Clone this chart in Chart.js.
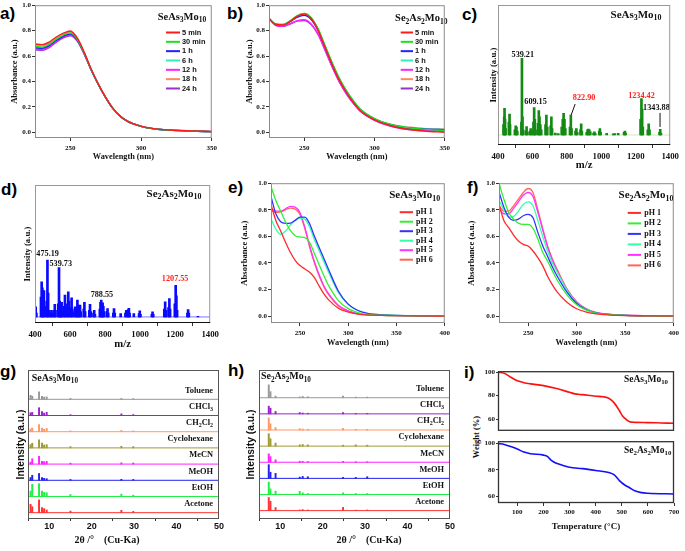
<!DOCTYPE html>
<html>
<head>
<meta charset="utf-8">
<script src="https://cdn.jsdelivr.net/npm/chart.js@4.4.1/dist/chart.umd.min.js"></script>
<style>
  body { margin: 0; background: #fff; width: 685px; height: 551px; position: relative; overflow: hidden; }
  canvas { position: absolute; }
  .lbl { position: absolute; font: bold 17px "Liberation Sans", Arial, sans-serif; line-height: 17px; color: #000; }
  #wt { position: absolute; left: 476px; top: 437px; font: bold 8.5px "Liberation Serif", serif; white-space: nowrap;
        transform: translate(-50%, -50%) rotate(-90deg); color: #111; }
</style>
</head>
<body>
<div class="lbl" style="left:0px;top:5px">a)</div>
<div class="lbl" style="left:227px;top:5px">b)</div>
<div class="lbl" style="left:462px;top:6px">c)</div>
<div class="lbl" style="left:1px;top:181px">d)</div>
<div class="lbl" style="left:228px;top:179px">e)</div>
<div class="lbl" style="left:467px;top:179px">f)</div>
<div class="lbl" style="left:0px;top:363px">g)</div>
<div class="lbl" style="left:228px;top:362px">h)</div>
<div class="lbl" style="left:464px;top:364px">i)</div>
<div id="wt">Weight (%)</div>
<script>
'use strict';
const SERIF = '"Liberation Serif", "Times New Roman", serif';
const SANS = '"Liberation Sans", Arial, sans-serif';

// ---------- a) / b) UV-vis vs. time ----------
const timeLabels = ['5 min', '30 min', '1 h', '6 h', '12 h', '18 h', '24 h'];
const timeColors = ['#ff1a1a', '#22dd22', '#2222ff', '#33eebb', '#ff22ff', '#ff8866', '#9933cc'];
const waveAB = [225, 230, 235, 240, 245, 250, 255, 260, 265, 270, 275, 280, 285, 290, 300, 310, 320, 335, 350];

const absA5m  = [0.695, 0.690, 0.710, 0.750, 0.780, 0.797, 0.740, 0.625, 0.490, 0.375, 0.275, 0.190, 0.130, 0.090, 0.048, 0.027, 0.018, 0.011, 0.006];
const absA30m = [0.675, 0.670, 0.692, 0.732, 0.765, 0.782, 0.730, 0.618, 0.487, 0.373, 0.274, 0.189, 0.129, 0.089, 0.047, 0.026, 0.017, 0.010, 0.005];
const absA1h  = [0.665, 0.660, 0.682, 0.722, 0.755, 0.772, 0.724, 0.615, 0.485, 0.372, 0.273, 0.188, 0.129, 0.089, 0.047, 0.026, 0.017, 0.010, 0.005];
const absA6h  = [0.670, 0.665, 0.687, 0.727, 0.760, 0.777, 0.727, 0.616, 0.486, 0.372, 0.273, 0.189, 0.129, 0.089, 0.047, 0.026, 0.017, 0.010, 0.005];
const absA12h = [0.655, 0.650, 0.672, 0.713, 0.748, 0.766, 0.720, 0.613, 0.484, 0.371, 0.272, 0.188, 0.128, 0.088, 0.046, 0.026, 0.017, 0.010, 0.005];
const absA18h = [0.685, 0.680, 0.700, 0.740, 0.772, 0.790, 0.735, 0.620, 0.488, 0.374, 0.274, 0.190, 0.130, 0.090, 0.048, 0.027, 0.018, 0.011, 0.006];
const absA24h = [0.650, 0.645, 0.667, 0.708, 0.743, 0.760, 0.715, 0.610, 0.482, 0.370, 0.272, 0.188, 0.128, 0.088, 0.046, 0.026, 0.017, 0.010, 0.005];

const absB5m  = [0.895, 0.848, 0.845, 0.872, 0.912, 0.930, 0.895, 0.800, 0.665, 0.530, 0.410, 0.315, 0.235, 0.170, 0.098, 0.055, 0.030, 0.010, 0.000];
const absB30m = [0.895, 0.850, 0.848, 0.876, 0.916, 0.935, 0.902, 0.812, 0.678, 0.545, 0.425, 0.328, 0.248, 0.182, 0.108, 0.066, 0.042, 0.025, 0.015];
const absB1h  = [0.895, 0.848, 0.845, 0.870, 0.905, 0.920, 0.888, 0.800, 0.668, 0.535, 0.415, 0.320, 0.240, 0.176, 0.104, 0.063, 0.040, 0.026, 0.020];
const absB6h  = [0.895, 0.850, 0.847, 0.873, 0.910, 0.925, 0.895, 0.810, 0.678, 0.545, 0.425, 0.327, 0.247, 0.181, 0.108, 0.066, 0.043, 0.028, 0.022];
const absB12h = [0.895, 0.842, 0.835, 0.855, 0.878, 0.885, 0.852, 0.770, 0.645, 0.515, 0.398, 0.305, 0.228, 0.165, 0.094, 0.052, 0.028, 0.012, 0.005];
const absB18h = [0.895, 0.850, 0.848, 0.877, 0.917, 0.935, 0.900, 0.808, 0.672, 0.540, 0.420, 0.325, 0.245, 0.180, 0.108, 0.067, 0.045, 0.031, 0.025];
const absB24h = [0.895, 0.840, 0.833, 0.852, 0.875, 0.880, 0.848, 0.768, 0.642, 0.512, 0.396, 0.303, 0.227, 0.165, 0.096, 0.056, 0.034, 0.022, 0.018];

// ---------- e) / f) UV-vis vs. pH ----------
const pHLabels = ['pH 1', 'pH 2', 'pH 3', 'pH 4', 'pH 5', 'pH 6'];
const pHColors = ['#ff2a2a', '#33ee33', '#3333ff', '#33ffaa', '#ff33ff', '#ff6655'];
const waveEF = [220, 225, 230, 235, 240, 245, 250, 255, 260, 265, 270, 275, 280, 290, 300, 310, 320, 335, 350, 375, 400];

const absEpH1 = [0.840, 0.720, 0.640, 0.555, 0.480, 0.420, 0.380, 0.355, 0.330, 0.290, 0.225, 0.165, 0.120, 0.058, 0.030, 0.015, 0.009, 0.005, 0.003, 0.001, 0.000];
const absEpH2 = [0.975, 0.870, 0.790, 0.710, 0.645, 0.605, 0.595, 0.590, 0.555, 0.470, 0.385, 0.300, 0.225, 0.115, 0.056, 0.026, 0.013, 0.006, 0.004, 0.002, 0.000];
const absEpH3 = [0.900, 0.770, 0.710, 0.698, 0.700, 0.720, 0.745, 0.745, 0.695, 0.600, 0.515, 0.430, 0.345, 0.185, 0.090, 0.042, 0.020, 0.009, 0.005, 0.002, 0.000];
const absEpH4 = [0.730, 0.655, 0.615, 0.640, 0.685, 0.720, 0.737, 0.730, 0.670, 0.575, 0.490, 0.405, 0.325, 0.175, 0.088, 0.043, 0.021, 0.010, 0.006, 0.002, 0.000];
const absEpH5 = [0.810, 0.790, 0.790, 0.808, 0.826, 0.820, 0.780, 0.670, 0.530, 0.410, 0.310, 0.225, 0.165, 0.080, 0.040, 0.018, 0.010, 0.005, 0.003, 0.001, 0.000];
const absEpH6 = [0.800, 0.780, 0.785, 0.800, 0.812, 0.805, 0.765, 0.660, 0.520, 0.400, 0.300, 0.218, 0.158, 0.076, 0.037, 0.017, 0.009, 0.005, 0.003, 0.001, 0.000];

const absFpH1 = [0.840, 0.720, 0.665, 0.610, 0.565, 0.540, 0.527, 0.490, 0.440, 0.380, 0.300, 0.235, 0.180, 0.105, 0.055, 0.030, 0.016, 0.008, 0.004, 0.002, 0.000];
const absFpH2 = [1.000, 0.880, 0.780, 0.730, 0.700, 0.690, 0.690, 0.660, 0.580, 0.480, 0.415, 0.340, 0.270, 0.160, 0.085, 0.045, 0.022, 0.010, 0.005, 0.002, 0.000];
const absFpH3 = [0.935, 0.820, 0.745, 0.720, 0.730, 0.755, 0.765, 0.740, 0.630, 0.530, 0.450, 0.370, 0.300, 0.180, 0.095, 0.048, 0.024, 0.011, 0.006, 0.002, 0.000];
const absFpH4 = [0.870, 0.800, 0.745, 0.750, 0.790, 0.840, 0.860, 0.830, 0.720, 0.600, 0.490, 0.400, 0.330, 0.195, 0.100, 0.050, 0.025, 0.012, 0.006, 0.002, 0.000];
const absFpH5 = [0.810, 0.770, 0.770, 0.810, 0.860, 0.910, 0.930, 0.900, 0.780, 0.650, 0.520, 0.420, 0.340, 0.200, 0.105, 0.052, 0.026, 0.012, 0.007, 0.003, 0.000];
const absFpH6 = [0.830, 0.790, 0.790, 0.830, 0.880, 0.930, 0.960, 0.930, 0.800, 0.660, 0.530, 0.430, 0.350, 0.205, 0.108, 0.054, 0.027, 0.013, 0.007, 0.003, 0.000];

// ---------- c) / d) mass spectra ----------
const mzC  = [432, 436, 438, 441, 444, 463, 467, 470, 498, 503, 507, 512, 536, 539, 542, 546, 562, 566, 570, 585, 590, 595,
              606, 610, 614, 618, 632, 637, 641, 646, 651, 676, 681, 686, 706, 710, 714, 733, 750, 770, 776, 781, 786, 791,
              818, 823, 827, 850, 855, 860, 879, 883, 887, 915, 920, 925, 930, 936, 955, 960, 965, 988, 992, 996,
              1031, 1069, 1078, 1098, 1132, 1137, 1141, 1228, 1233, 1237, 1241, 1270, 1275, 1280, 1338, 1342, 1346];
const intC = [8, 14, 20.5, 12, 5, 10, 16, 8, 4, 7, 6, 3, 10, 59, 14, 4, 3, 6.4, 2, 3, 5, 3,
              10, 21, 12, 4, 9, 18.7, 14, 8, 4, 8, 15.4, 6, 7, 14, 5, 1.5, 1, 6, 12, 16.7, 12, 5,
              6, 15.4, 5, 3, 5, 2, 4, 8.5, 3, 2, 4, 4.6, 4, 2.5, 1.5, 2.5, 1, 3, 5, 2,
              1.3, 0.8, 1, 1.3, 2, 3, 1.5, 12, 28, 20, 6, 4, 8.5, 4, 2, 4.4, 1.5];

const mzD  = [404, 408, 434, 438, 442, 446, 451, 455, 467, 471, 475, 479, 490, 494, 498, 508, 513, 517, 533, 537, 541, 545,
              548, 552, 556, 567, 571, 575, 585, 590, 594, 605, 609, 613, 625, 629, 638, 642, 646, 650, 657, 661,
              678, 682, 686, 710, 714, 718, 734, 738, 742, 770, 774, 778, 782, 786, 790, 794, 810, 814, 818,
              847, 851, 855, 889, 916, 921, 928, 932, 936, 940, 964, 994, 998, 1002, 1067, 1071, 1075,
              1138, 1143, 1147, 1162, 1167, 1171, 1198, 1203, 1207, 1211, 1270, 1274, 1278, 1330];
const intD = [7.6, 3, 15, 26.6, 22, 10, 20, 8, 12, 43, 18, 5, 3, 5, 3, 5, 9.6, 5, 10, 37.5, 12, 4,
              6, 11, 4, 8, 16.5, 7, 10, 19, 12, 7, 14.4, 6, 4, 7.6, 6, 12.7, 9, 5, 8.9, 4,
              6, 11, 4, 5, 9.6, 4, 3, 5, 2, 6, 11, 12.7, 9, 10.6, 8, 4, 4, 6.3, 3,
              3, 6.3, 3, 2.5, 3, 5, 4, 5.5, 6.6, 3, 2.5, 2.5, 4.6, 2, 2, 3.8, 2,
              6, 11.4, 5, 7, 13.9, 6, 10, 24, 16, 5, 3, 5.6, 3, 0.5];

// ---------- g) / h) PXRD after soaking ----------
const solvents = ['Toluene', 'CHCl3', 'CH2Cl2', 'Cyclohexane', 'MeCN', 'MeOH', 'EtOH', 'Acetone'];
const solventColors = ['#999999', '#9922cc', '#ff9966', '#a09a35', '#ff22ff', '#2222ee', '#22ee44', '#ff3333'];

const peaksG = [5.6, 6.0, 7.6, 8.3, 8.8, 9.4, 15.0, 27.0, 29.8];
const gToluene = [0.25, 0.19, 0.46, 0.19, 0.14, 0.15, 0.06, 0.05, 0.04];
const gCHCl3   = [0.17, 0.19, 0.48, 0.25, 0.15, 0.20, 0.05, 0.10, 0.06];
const gCH2Cl2  = [0.17, 0.23, 0.44, 0.23, 0.15, 0.20, 0.05, 0.08, 0.05];
const gCyclo   = [0.20, 0.29, 0.50, 0.29, 0.18, 0.20, 0.08, 0.10, 0.08];
const gMeCN    = [0.12, 0.33, 0.48, 0.17, 0.15, 0.17, 0.06, 0.08, 0.07];
const gMeOH    = [0.17, 0.31, 0.42, 0.17, 0.12, 0.10, 0.05, 0.06, 0.05];
const gEtOH    = [0.33, 0.75, 0.79, 0.33, 0.25, 0.23, 0.12, 0.15, 0.08];
const gAcetone = [0.52, 0.37, 0.79, 0.31, 0.25, 0.17, 0.10, 0.15, 0.08];

const peaksH = [7.3, 7.7, 8.9, 14.6, 15.3, 16.5, 24.8, 27.8, 30.5];
const hToluene = [0.80, 0.38, 0.10, 0.05, 0.08, 0.06, 0.10, 0.04, 0.04];
const hCHCl3   = [0.48, 0.35, 0.15, 0.08, 0.05, 0.04, 0.08, 0.03, 0.03];
const hCH2Cl2  = [0.75, 0.38, 0.15, 0.08, 0.06, 0.05, 0.10, 0.04, 0.04];
const hCyclo   = [0.77, 0.46, 0.19, 0.08, 0.10, 0.08, 0.06, 0.08, 0.06];
const hMeCN    = [0.52, 0.35, 0.15, 0.06, 0.05, 0.04, 0.05, 0.03, 0.03];
const hMeOH    = [0.85, 0.38, 0.31, 0.08, 0.12, 0.10, 0.06, 0.06, 0.10];
const hEtOH    = [0.77, 0.35, 0.21, 0.20, 0.10, 0.06, 0.10, 0.06, 0.06];
const hAcetone = [0.81, 0.58, 0.19, 0.04, 0.06, 0.04, 0.20, 0.03, 0.04];

// ---------- i) TGA ----------
const tempSe1 = [25, 50, 75, 100, 125, 150, 200, 250, 300, 320, 350, 400, 430, 450, 470, 490, 500, 510, 530, 550, 600, 650, 700];
const wtSe1   = [100, 99, 95.6, 92.6, 91, 90, 88.5, 86, 82.8, 81.5, 80.8, 79.5, 79, 77.7, 74, 67.5, 63.6, 61, 57.7, 57.2, 57, 56.7, 56.4];
const tempSe2 = [25, 50, 75, 100, 125, 150, 200, 215, 230, 250, 275, 300, 350, 400, 450, 470, 490, 510, 530, 550, 575, 600, 700];
const wtSe2   = [100, 99.3, 97.7, 95.8, 93.5, 92.3, 91.2, 90.2, 87.2, 85, 83.3, 81.9, 80.9, 79.5, 77.9, 76.3, 72, 68.6, 66.3, 64, 62.6, 62.1, 61.6];

// tick labels
const ticksWaveAB = [250, 300, 350];
const ticksWaveEF = [250, 300, 350, 400];
const ticksAbs = [0, 0.2, 0.4, 0.6, 0.8, 1.0];
const ticksMz = [400, 600, 800, 1000, 1200, 1400];
const ticks2Theta = [10, 20, 30, 40, 50];
const ticksTemp = [100, 200, 300, 400, 500, 600, 700];
const ticksWeight = [60, 80, 100];

// ---------- drawing helpers ----------
function drawText(ctx, text, x, y, o) {
  const size = o.size || 9, fam = o.family || SERIF;
  const parts = [];
  if (o.chem) {
    for (const ch of text) {
      const sub = /\d/.test(ch);
      const last = parts[parts.length - 1];
      if (last && last.sub === sub) last.t += ch; else parts.push({ t: ch, sub });
    }
  } else {
    parts.push({ t: text, sub: false });
  }
  const fontOf = p => 'bold ' + (p.sub ? size * 0.72 : size) + 'px ' + fam;
  let w = 0;
  parts.forEach(p => { ctx.font = fontOf(p); p.w = ctx.measureText(p.t).width; w += p.w; });
  let cx = o.align === 'right' ? x - w : (o.align === 'left' ? x : x - w / 2);
  ctx.save();
  ctx.fillStyle = o.color || '#111';
  ctx.textBaseline = 'middle';
  ctx.textAlign = 'left';
  parts.forEach(p => {
    ctx.font = fontOf(p);
    ctx.fillText(p.t, cx, y + (p.sub ? size * 0.3 : 0));
    cx += p.w;
  });
  ctx.restore();
}

const framePlugin = {
  id: 'frame',
  afterDraw(chart, args, o) {
    const { ctx, chartArea: a } = chart;
    ctx.save();
    ctx.strokeStyle = o.color || '#888';
    ctx.lineWidth = o.width || 1;
    ctx.strokeRect(a.left + 0.5, a.top + 0.5, a.right - a.left - 1, a.bottom - a.top - 1);
    if (o.bottom) {
      ctx.strokeStyle = o.bottom;
      ctx.beginPath(); ctx.moveTo(a.left, a.bottom - 0.5); ctx.lineTo(a.right, a.bottom - 0.5); ctx.stroke();
    }
    ctx.restore();
  }
};

const notesPlugin = {
  id: 'notes',
  afterDatasetsDraw(chart, args, o) {
    const { ctx, chartArea: a, scales } = chart;
    (o.items || []).forEach(it => {
      const px = v => it.data ? scales.x.getPixelForValue(v) : a.left + v;
      const py = v => it.data ? scales.y.getPixelForValue(v) : a.top + v;
      if (it.line) {
        ctx.save();
        ctx.strokeStyle = it.color || '#111';
        ctx.lineWidth = 1;
        ctx.beginPath(); ctx.moveTo(px(it.x), py(it.y)); ctx.lineTo(px(it.x2), py(it.y2)); ctx.stroke();
        ctx.restore();
      } else {
        drawText(ctx, it.text, px(it.x), py(it.y), it);
      }
    });
  }
};

const legendPlugin = {
  id: 'inLegend',
  afterDatasetsDraw(chart, args, o) {
    if (!o.show) return;
    const { ctx, chartArea: a } = chart;
    chart.data.datasets.forEach((ds, i) => {
      const x = a.left + o.x, y = a.top + o.y + i * o.dy;
      ctx.save();
      ctx.strokeStyle = ds.borderColor;
      ctx.lineWidth = 2;
      ctx.beginPath(); ctx.moveTo(x, y); ctx.lineTo(x + o.len, y); ctx.stroke();
      ctx.restore();
      drawText(ctx, ds.label, x + o.len + o.gap, y, { size: o.size, family: o.family, align: 'left' });
    });
  }
};

Chart.register(framePlugin, notesPlugin, legendPlugin);
Chart.defaults.animation = false;

function axis(min, max, ticks, o) {
  o = o || {};
  const has = ticks.length > 0;
  const ax = {
    type: 'linear', min, max, offset: false,
    border: { display: false },
    grid: { display: has, drawOnChartArea: false, tickLength: o.tl ?? 3, color: '#333' },
    ticks: {
      display: has, autoSkip: false, maxRotation: 0, padding: o.pad ?? 2, color: '#111',
      font: { family: o.tf || SERIF, size: o.ts || 7, weight: 'bold' },
      callback: o.fmt || (v => String(v))
    },
    title: {
      display: !!o.title, text: o.title, color: '#111',
      padding: { top: o.tp || 0, bottom: o.tp || 0 },
      font: { family: o.ff || SERIF, size: o.fs || 8.5, weight: 'bold' }
    }
  };
  if (has) ax.afterBuildTicks = s => { s.ticks = ticks.map(v => ({ value: v })); };
  return ax;
}

function makeChart(box, type, datasets, xAxis, yAxis, plugins) {
  const cv = document.createElement('canvas');
  const w = box.R - box.L + box.yw + box.pr;
  const h = box.B - box.T + box.pt + box.xh;
  cv.width = w; cv.height = h;
  Object.assign(cv.style, { left: (box.L - box.yw) + 'px', top: (box.T - box.pt) + 'px', width: w + 'px', height: h + 'px' });
  document.body.appendChild(cv);
  xAxis.afterFit = s => { s.height = box.xh; };
  yAxis.afterFit = s => { s.width = box.yw; };
  return new Chart(cv, {
    type,
    data: { datasets },
    options: {
      responsive: false,
      animation: false,
      layout: { autoPadding: false, padding: { left: 0, top: box.pt, right: box.pr, bottom: 0 } },
      scales: { x: xAxis, y: yAxis },
      plugins: Object.assign({ legend: { display: false }, tooltip: { enabled: false } }, plugins)
    }
  });
}

function curve(label, color, xs, ys, width) {
  return {
    type: 'line', label, borderColor: color, backgroundColor: color, borderWidth: width || 1.4,
    pointRadius: 0, fill: false, cubicInterpolationMode: 'monotone',
    data: xs.map((x, i) => ({ x, y: ys[i] }))
  };
}

function sticks(color, xs, ys) {
  return {
    type: 'bar', backgroundColor: color, barThickness: 2, grouped: false,
    data: xs.map((x, i) => ({ x, y: ys[i] }))
  };
}

const fmt1 = v => v.toFixed(1);

// ---------- a) ----------
const seriesA = [absA5m, absA30m, absA1h, absA6h, absA12h, absA18h, absA24h];
makeChart({ L: 35, T: 5, R: 212, B: 138, yw: 35, xh: 30, pt: 5, pr: 8 }, 'line',
  seriesA.map((s, i) => curve(timeLabels[i], timeColors[i], waveAB, s)),
  axis(225, 350, ticksWaveAB, { title: 'Wavelength (nm)', fs: 8.3, tp: 6, pad: 3 }),
  axis(-0.045, 1.0, ticksAbs, { title: 'Absorbance (a.u.)', fs: 8.5, tp: 10, pad: 1, fmt: fmt1 }),
  {
    frame: { color: '#8c8c8c' },
    inLegend: { show: true, x: 131, y: 27.3, dy: 9.33, len: 14, gap: 2, size: 7.4, family: SANS },
    notes: { items: [{ text: 'SeAs3Mo10', chem: true, x: 147, y: 12, size: 10.5 }] }
  });

// ---------- b) ----------
const seriesB = [absB5m, absB30m, absB1h, absB6h, absB12h, absB18h, absB24h];
makeChart({ L: 269, T: 5, R: 445, B: 138, yw: 35, xh: 30, pt: 5, pr: 8 }, 'line',
  seriesB.map((s, i) => curve(timeLabels[i], timeColors[i], waveAB, s)),
  axis(225, 350, ticksWaveAB, { title: 'Wavelength (nm)', fs: 8.3, tp: 6, pad: 3 }),
  axis(-0.045, 1.0, ticksAbs, { title: 'Absorbance (a.u.)', fs: 8.5, tp: 10.5, pad: 1, fmt: fmt1 }),
  {
    frame: { color: '#8c8c8c' },
    inLegend: { show: true, x: 131.7, y: 27.3, dy: 9.33, len: 12.3, gap: 2, size: 7.4, family: SANS },
    notes: { items: [{ text: 'Se2As2Mo10', chem: true, x: 152.3, y: 13.3, size: 10.5 }] }
  });

// ---------- c) ----------
makeChart({ L: 498, T: 5, R: 672, B: 145, yw: 30, xh: 30, pt: 5, pr: 10 }, 'bar',
  [sticks('#138a13', mzC, intC),
   { type: 'line', borderColor: '#d6e9b8', borderWidth: 1, pointRadius: 0, data: [{ x: 400, y: 0 }, { x: 1400, y: 0 }] }],
  axis(400, 1400, ticksMz, { title: 'm/z', fs: 10.7, tp: 3.6, pad: 3, ts: 8.8 }),
  axis(-7.7, 100, [], { title: 'Intensity (a.u.)', fs: 8.8, tp: 20 }),
  {
    frame: { color: '#999', bottom: '#111' },
    notes: { items: [
      { text: 'SeAs3Mo10', chem: true, x: 138, y: 10, size: 11 },
      { data: true, text: '539.21', x: 544, y: 61.5, size: 8.2 },
      { data: true, text: '609.15', x: 618, y: 25.4, size: 8.2 },
      { data: true, text: '822.90', x: 900, y: 28.5, size: 8.2, color: '#ff2222' },
      { data: true, text: '1234.42', x: 1233, y: 30, size: 8.2, color: '#ff2222' },
      { data: true, text: '1343.88', x: 1320, y: 20.8, size: 8.2 },
      { data: true, line: true, x: 825, y: 15.4, x2: 848, y2: 23.8 },
      { data: true, line: true, x: 1341, y: 17, x2: 1341, y2: 6.2 }
    ] }
  });

// ---------- d) ----------
makeChart({ L: 35, T: 185, R: 212, B: 323, yw: 35, xh: 30, pt: 5, pr: 10 }, 'bar',
  [sticks('#0a0aff', mzD, intD),
   { type: 'line', borderColor: '#7a7aff', borderWidth: 1, pointRadius: 0, data: [{ x: 400, y: 0 }, { x: 1400, y: 0 }] }],
  axis(400, 1400, ticksMz, { title: 'm/z', fs: 10.7, tp: 2.6, pad: 3, ts: 8.8 }),
  axis(-4.6, 100, [], { title: 'Intensity (a.u.)', fs: 8.8, tp: 22.4 }),
  {
    frame: { color: '#999', bottom: '#111' },
    notes: { items: [
      { text: 'Se2As2Mo10', chem: true, x: 139, y: 9, size: 11 },
      { data: true, text: '475.19', x: 472, y: 47.6, size: 8.2 },
      { data: true, text: '539.73', x: 547, y: 40, size: 8.2 },
      { data: true, text: '788.55', x: 782, y: 16.5, size: 8.2 },
      { data: true, text: '1207.55', x: 1200, y: 28.6, size: 8.2, color: '#ff2222' }
    ] }
  });

// ---------- e) ----------
const seriesE = [absEpH1, absEpH2, absEpH3, absEpH4, absEpH5, absEpH6];
makeChart({ L: 271, T: 182, R: 445, B: 323, yw: 35, xh: 30, pt: 4, pr: 8 }, 'line',
  seriesE.map((s, i) => curve(pHLabels[i], pHColors[i], waveEF, s, 1.3)),
  axis(220, 400, ticksWaveEF, { title: 'Wavelength (nm)', fs: 8.4, tp: 4.7, pad: 3 }),
  axis(-0.052, 1.0, ticksAbs, { title: 'Absorbance (a.u.)', fs: 8.6, tp: 3.5, pad: 1, fmt: fmt1 }),
  {
    frame: { color: '#8c8c8c' },
    inLegend: { show: true, x: 128.7, y: 29, dy: 9.5, len: 13.3, gap: 3, size: 8, family: SERIF },
    notes: { items: [{ text: 'SeAs3Mo10', chem: true, x: 143.7, y: 12, size: 11 }] }
  });

// ---------- f) ----------
const seriesF = [absFpH1, absFpH2, absFpH3, absFpH4, absFpH5, absFpH6];
makeChart({ L: 499, T: 182, R: 674, B: 323, yw: 35, xh: 30, pt: 4, pr: 8 }, 'line',
  seriesF.map((s, i) => curve(pHLabels[i], pHColors[i], waveEF, s, 1.3)),
  axis(220, 400, ticksWaveEF, { title: 'Wavelength (nm)', fs: 8.4, tp: 4.7, pad: 3 }),
  axis(-0.052, 1.0, ticksAbs, { title: 'Absorbance (a.u.)', fs: 8.6, tp: 2.8, pad: 1, fmt: fmt1 }),
  {
    frame: { color: '#8c8c8c' },
    inLegend: { show: true, x: 128.7, y: 29.7, dy: 10.5, len: 13.3, gap: 3.3, size: 8, family: SERIF },
    notes: { items: [{ text: 'Se2As2Mo10', chem: true, x: 147, y: 12, size: 11 }] }
  });

// ---------- g) / h) ----------
function xrdSets(heights, peaks, firstBase) {
  const sets = [];
  heights.forEach((hs, i) => {
    const base = firstBase + (heights.length - 1 - i);
    sets.push({ type: 'bar', backgroundColor: solventColors[i], barThickness: 1.3, grouped: false,
                data: peaks.map((p, k) => ({ x: p, y: [base, base + hs[k]] })) });
    sets.push({ type: 'line', borderColor: solventColors[i], borderWidth: 1, pointRadius: 0,
                data: [{ x: 5, y: base }, { x: 50, y: base }] });
  });
  return sets;
}
function xrdLabels(firstBase) {
  return solvents.map((s, i) => ({ data: true, text: s, chem: true, align: 'right', size: 8.4,
                                   x: 48.6, y: firstBase + (solvents.length - 1 - i) + 0.55 }));
}

const baseG = 0.39;
makeChart({ L: 28, T: 370, R: 219, B: 519, yw: 28, xh: 30, pt: 4, pr: 8 }, 'bar',
  xrdSets([gToluene, gCHCl3, gCH2Cl2, gCyclo, gMeCN, gMeOH, gEtOH, gAcetone], peaksG, baseG),
  axis(5, 50, ticks2Theta, { tl: 2, pad: 0, tf: SANS, ts: 9 }),
  axis(0, 9.2, [], { title: 'Intensity (a.u.)', ff: SANS, fs: 10.3, tp: 14.8 }),
  {
    frame: { color: '#555' },
    notes: { items: [
      { text: 'SeAs3Mo10', chem: true, align: 'left', x: 3.7, y: 8.3, size: 10 },
      { text: '2θ /°    (Cu-Ka)', x: 79, y: 170, size: 10 }
    ].concat(xrdLabels(baseG)) }
  });

const baseH = 0.52;
makeChart({ L: 259, T: 370, R: 450, B: 519, yw: 28, xh: 30, pt: 4, pr: 8 }, 'bar',
  xrdSets([hToluene, hCHCl3, hCH2Cl2, hCyclo, hMeCN, hMeOH, hEtOH, hAcetone], peaksH, baseH),
  axis(5, 50, ticks2Theta, { tl: 2, pad: 0, tf: SANS, ts: 9 }),
  axis(0, 9.24, [], { title: 'Intensity (a.u.)', ff: SANS, fs: 10.3, tp: 13.5 }),
  {
    frame: { color: '#555' },
    notes: { items: [
      { text: 'Se2As2Mo10', chem: true, align: 'left', x: 2, y: 6.7, size: 10 },
      { text: '2θ /°    (Cu-Ka)', x: 110, y: 170, size: 10 }
    ].concat(xrdLabels(baseH)) }
  });

// ---------- i) ----------
const xTop = axis(26, 700, ticksTemp, {});
xTop.display = false;
makeChart({ L: 498, T: 370, R: 674, B: 436, yw: 30, xh: 0, pt: 4, pr: 8 }, 'line',
  [curve('SeAs3Mo10', '#ff1010', tempSe1, wtSe1, 1.6)],
  xTop,
  axis(50, 100.8, ticksWeight, { tl: 2, pad: 1 }),
  {
    frame: { color: '#333', width: 1.3 },
    notes: { items: [{ text: 'SeAs3Mo10', chem: true, x: 148, y: 8.3, size: 9.5 }] }
  });

makeChart({ L: 498, T: 436, R: 674, B: 503, yw: 30, xh: 30, pt: 0, pr: 8 }, 'line',
  [curve('Se2As2Mo10', '#1010ff', tempSe2, wtSe2, 1.6)],
  axis(26, 700, ticksTemp, { title: 'Temperature (°C)', fs: 9, tp: 1, pad: 2 }),
  axis(54.7, 101.8, ticksWeight, { tl: 2, pad: 1 }),
  {
    frame: { color: '#333', width: 1.3 },
    notes: { items: [{ text: 'Se2As2Mo10', chem: true, x: 149.7, y: 9, size: 9.5 }] }
  });
</script>
</body>
</html>
